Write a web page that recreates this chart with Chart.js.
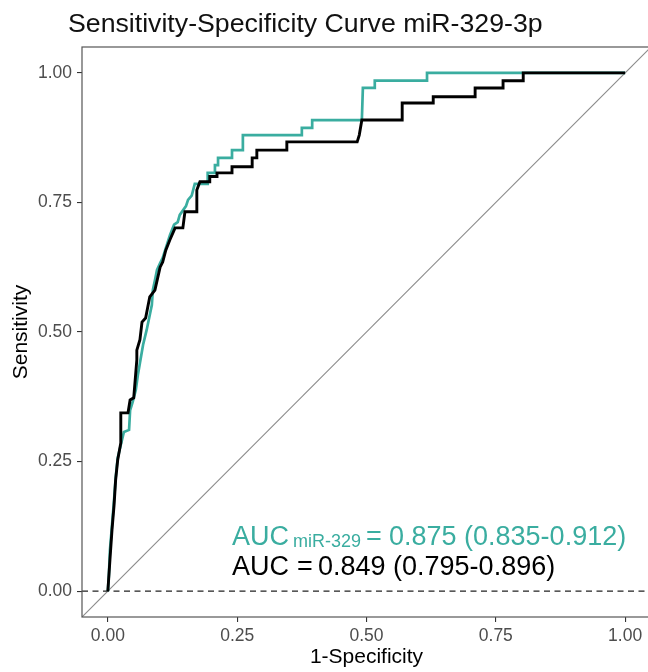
<!DOCTYPE html>
<html><head><meta charset="utf-8">
<style>html,body{margin:0;padding:0;overflow:hidden;background:#fff;width:648px;height:672px}canvas{display:block}</style>
<script src="https://cdn.jsdelivr.net/npm/chart.js@4.4.1/dist/chart.umd.min.js"></script>
</head><body><canvas id="c" width="660" height="672"></canvas>
<script>
const titleText = "Sensitivity-Specificity Curve miR-329-3p";
const xAxisTitle = "1-Specificity";
const yAxisTitle = "Sensitivity";
const tickValues = [0, 0.25, 0.5, 0.75, 1];
const tickLabels = ["0.00", "0.25", "0.50", "0.75", "1.00"];
const axisRange = [-0.05, 1.05];

// combined model (black)
const combinedFpr = [0,0.004,0.008,0.012,0.015,0.019,0.025,0.025,0.039,0.043,0.050,0.056,0.056,0.062,0.066,0.073,0.081,0.091,0.101,0.106,0.112,0.120,0.130,0.145,0.149,0.172,0.172,0.178,0.197,0.197,0.211,0.211,0.240,0.240,0.279,0.279,0.288,0.288,0.346,0.346,0.482,0.486,0.491,0.569,0.569,0.629,0.629,0.710,0.710,0.764,0.764,0.803,0.803,1.0];
const combinedTpr = [0,0.060,0.118,0.166,0.214,0.253,0.286,0.344,0.344,0.369,0.373,0.446,0.465,0.485,0.519,0.527,0.568,0.581,0.625,0.635,0.658,0.678,0.701,0.701,0.732,0.732,0.774,0.790,0.790,0.800,0.800,0.807,0.807,0.819,0.819,0.836,0.836,0.851,0.851,0.867,0.867,0.880,0.909,0.909,0.942,0.942,0.954,0.954,0.971,0.971,0.985,0.985,1.0,1.0];

// miR-329 (teal)
const mirFpr = [0,0.002,0.004,0.008,0.012,0.015,0.019,0.025,0.031,0.041,0.043,0.048,0.054,0.058,0.062,0.068,0.075,0.081,0.085,0.087,0.091,0.095,0.101,0.106,0.114,0.120,0.128,0.135,0.139,0.151,0.155,0.162,0.168,0.193,0.193,0.207,0.207,0.213,0.213,0.240,0.240,0.261,0.261,0.375,0.375,0.395,0.395,0.491,0.493,0.516,0.516,0.617,0.617,1.0];
const mirTpr = [0,0.031,0.079,0.127,0.176,0.218,0.257,0.282,0.307,0.311,0.349,0.365,0.388,0.417,0.440,0.475,0.504,0.533,0.552,0.581,0.600,0.620,0.633,0.643,0.668,0.687,0.707,0.712,0.726,0.743,0.755,0.763,0.786,0.786,0.807,0.807,0.822,0.822,0.836,0.836,0.851,0.851,0.880,0.880,0.894,0.894,0.909,0.909,0.971,0.971,0.985,0.985,1.0,1.0];

const diagX = [-0.05, 1.05];
const diagY = [-0.05, 1.05];
const zeroX = [-0.05, 1.05];
const zeroY = [0, 0];

const aucLabel = "AUC";
const aucMirSub = "miR-329";
const aucMirValue = "0.875 (0.835-0.912)";
const aucCombValue = "0.849 (0.795-0.896)";

const TEAL = '#3aada0';
const FONT = '"Liberation Sans", Arial, Helvetica, sans-serif';

const pts = (xs, ys) => xs.map((x, i) => ({x: x, y: ys[i]}));

const textPlugin = {
  id: 'texts',
  afterDraw(chart) {
    const ctx = chart.ctx, a = chart.chartArea;
    ctx.save();
    ctx.strokeStyle = '#555';
    ctx.lineWidth = 1.2;
    ctx.strokeRect(a.left, a.top, a.right - a.left, a.bottom - a.top);
    ctx.textAlign = 'left';
    ctx.textBaseline = 'alphabetic';
    ctx.fillStyle = '#111';
    ctx.font = '26.7px ' + FONT;
    ctx.fillText(titleText, 68, 32);
    // teal AUC
    ctx.fillStyle = TEAL;
    ctx.font = '27px ' + FONT;
    ctx.fillText(aucLabel, 232, 545);
    ctx.font = '18px ' + FONT;
    ctx.fillText(aucMirSub, 293, 547);
    ctx.font = '27px ' + FONT;
    ctx.fillText('=', 366, 545);
    ctx.fillText(aucMirValue, 389, 545);
    // black AUC
    ctx.fillStyle = '#000';
    ctx.fillText(aucLabel, 232, 575);
    ctx.fillText('=', 297, 575);
    ctx.fillText(aucCombValue, 318, 575);
    ctx.restore();
  }
};

const axisCommon = (titleText, isX) => ({
  type: 'linear',
  min: axisRange[0],
  max: axisRange[1],
  afterBuildTicks: s => { s.ticks = tickValues.map(v => ({value: v})); },
  afterFit: s => { if (isX) s.height = 55; else s.width = 82; },
  grid: {display: true, drawOnChartArea: false, drawTicks: true, tickLength: 5, color: '#333', lineWidth: 1.1},
  border: {display: false},
  ticks: {
    autoSkip: false, maxRotation: 0, padding: isX ? 4 : 5,
    color: '#4d4d4d',
    font: {family: FONT, size: 17.5},
    callback: (v, i) => tickLabels[i]
  },
  title: {
    display: true, text: titleText, color: '#000',
    font: {family: FONT, size: 21},
    padding: isX ? {top: 0, bottom: 2} : {top: 8.5, bottom: 0}
  }
});

new Chart(document.getElementById('c'), {
  type: 'scatter',
  data: {
    datasets: [
      {data: pts(combinedFpr, combinedTpr), showLine: true, borderColor: '#000', borderWidth: 2.9, pointRadius: 0, tension: 0, borderJoinStyle: 'miter', borderCapStyle: 'butt'},
      {data: pts(mirFpr, mirTpr), showLine: true, borderColor: TEAL, borderWidth: 2.7, pointRadius: 0, tension: 0, borderJoinStyle: 'miter'},
      {data: pts(zeroX, zeroY), showLine: true, borderColor: '#222', borderWidth: 1.4, borderDash: [6, 4.5], pointRadius: 0},
      {data: pts(diagX, diagY), showLine: true, borderColor: '#8a8a8a', borderWidth: 1.1, pointRadius: 0}
    ]
  },
  options: {
    responsive: false,
    animation: false,
    devicePixelRatio: 1,
    layout: {padding: {top: 47, right: 9, bottom: 0, left: 0}},
    plugins: {legend: {display: false}, tooltip: {enabled: false}, title: {display: false}},
    scales: {
      x: axisCommon(xAxisTitle, true),
      y: axisCommon(yAxisTitle, false)
    }
  },
  plugins: [textPlugin]
});
</script>
</body></html>
